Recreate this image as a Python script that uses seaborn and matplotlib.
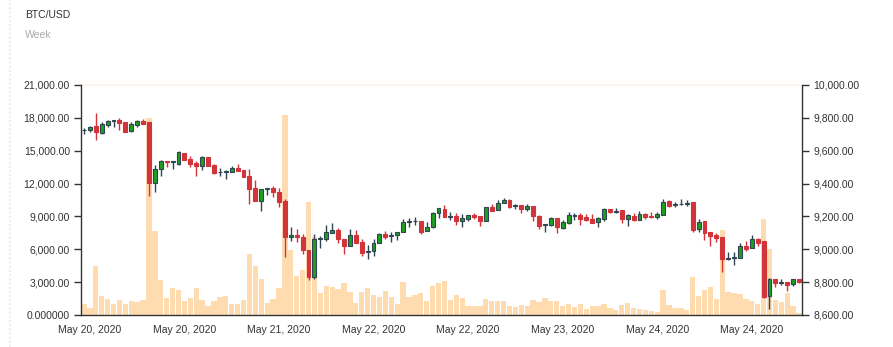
import matplotlib
matplotlib.use("Agg")
import matplotlib.pyplot as plt
from matplotlib.lines import Line2D
import seaborn as sns
import numpy as np
import pandas as pd

# ---------------- data ----------------
opens = [9725, 9729, 9749, 9710, 9759, 9783, 9789, 9773, 9719, 9757,
         9781, 9773, 9405, 9486, 9540, 9532, 9522, 9589, 9552, 9526,
         9506, 9559, 9512, 9469, 9469, 9471, 9496, 9484, 9445, 9372,
         9295, 9364, 9374, 9348, 9291, 9072, 9086, 9076, 8997, 8833,
         9060, 9060, 9101, 9119, 9062, 9022, 9086, 9042, 8983, 8989,
         9036, 9093, 9078, 9084, 9103, 9165, 9171, 9174, 9111, 9135,
         9218, 9247, 9198, 9204, 9174, 9182, 9208, 9200, 9170, 9257,
         9238, 9283, 9297, 9261, 9269, 9247, 9265, 9204, 9145, 9145,
         9188, 9131, 9161, 9204, 9208, 9194, 9186, 9165, 9182, 9243,
         9228, 9238, 9184, 9204, 9176, 9214, 9202, 9194, 9210, 9293,
         9271, 9273, 9275, 9285, 9125, 9170, 9103, 9089, 9076, 8939,
         8947, 8945, 9022, 9005, 9060, 9048, 8716, 8817, 8795, 8803,
         8789, 8819]
highs = [9741, 9751, 9832, 9777, 9789, 9789, 9802, 9775, 9777, 9789,
         9791, 9773, 9514, 9542, 9540, 9536, 9599, 9589, 9567, 9536,
         9567, 9559, 9522, 9492, 9482, 9508, 9522, 9484, 9488, 9421,
         9364, 9372, 9384, 9376, 9307, 9137, 9125, 9091, 8997, 9091,
         9082, 9145, 9157, 9127, 9062, 9123, 9117, 9062, 9026, 9060,
         9097, 9113, 9105, 9103, 9184, 9188, 9198, 9174, 9165, 9226,
         9249, 9267, 9224, 9222, 9212, 9206, 9218, 9200, 9259, 9275,
         9297, 9311, 9305, 9275, 9269, 9273, 9265, 9208, 9153, 9198,
         9188, 9178, 9224, 9220, 9218, 9214, 9214, 9198, 9253, 9243,
         9249, 9238, 9214, 9218, 9232, 9222, 9228, 9224, 9307, 9301,
         9287, 9305, 9303, 9285, 9184, 9170, 9103, 9101, 9076, 8981,
         8981, 9036, 9050, 9086, 9070, 9048, 8823, 8817, 8821, 8803,
         8817, 8819]
lows = [9704, 9715, 9664, 9704, 9745, 9745, 9729, 9712, 9715, 9745,
        9763, 9324, 9348, 9449, 9502, 9486, 9516, 9542, 9502, 9447,
        9482, 9506, 9457, 9445, 9425, 9471, 9477, 9441, 9273, 9295,
        9234, 9332, 9319, 9255, 8955, 9052, 9046, 8971, 8813, 8817,
        9009, 9052, 9101, 9036, 8971, 9022, 9036, 8961, 8939, 8961,
        9036, 9060, 9044, 9054, 9103, 9133, 9145, 9091, 9111, 9129,
        9190, 9194, 9180, 9149, 9137, 9172, 9182, 9139, 9170, 9232,
        9238, 9283, 9251, 9247, 9222, 9236, 9172, 9123, 9107, 9141,
        9101, 9123, 9153, 9178, 9149, 9174, 9157, 9133, 9174, 9222,
        9222, 9161, 9141, 9174, 9176, 9184, 9190, 9186, 9210, 9259,
        9255, 9271, 9263, 9107, 9105, 9056, 9022, 9044, 8864, 8932,
        8906, 8945, 8991, 9005, 9022, 8706, 8637, 8768, 8783, 8748,
        8779, 8797]
closes = [9728, 9747, 9715, 9761, 9779, 9786, 9769, 9715, 9765, 9781,
          9763, 9405, 9488, 9540, 9530, 9536, 9593, 9546, 9518, 9508,
          9559, 9508, 9463, 9473, 9475, 9496, 9477, 9441, 9368, 9295,
          9364, 9372, 9346, 9289, 9072, 9086, 9072, 8995, 8833, 9060,
          9066, 9103, 9119, 9060, 9022, 9086, 9036, 8979, 8989, 9040,
          9091, 9074, 9084, 9103, 9165, 9171, 9175, 9107, 9137, 9222,
          9249, 9198, 9204, 9174, 9192, 9206, 9198, 9170, 9255, 9236,
          9283, 9299, 9259, 9267, 9243, 9263, 9202, 9143, 9151, 9188,
          9135, 9168, 9208, 9210, 9184, 9180, 9161, 9188, 9243, 9228,
          9236, 9184, 9206, 9178, 9214, 9194, 9194, 9214, 9289, 9263,
          9277, 9277, 9281, 9117, 9167, 9101, 9082, 9070, 8941, 8945,
          8953, 9022, 9003, 9060, 9038, 8712, 8819, 8793, 8801, 8783,
          8817, 8803]
volumes = [1000, 640, 4470, 1730, 1430, 970, 1370, 970, 1250, 1220,
           1340, 17970, 7660, 3190, 1580, 2430, 2280, 1310, 1520, 2460,
           1370, 850, 1280, 1670, 1730, 1000, 1000, 1340, 5560, 4470,
           3280, 1130, 1460, 2460, 18240, 5930, 3590, 4100, 10280, 7080,
           1980, 2650, 2550, 2400, 2920, 2070, 1130, 2100, 2460, 1820,
           1640, 2190, 1640, 970, 3040, 1640, 1790, 2040, 1310, 2650,
           2920, 3100, 1370, 1850, 1550, 790, 790, 820, 1490, 1310,
           1280, 1250, 820, 700, 880, 820, 1370, 1190, 1550, 1280,
           1250, 790, 1000, 760, 970, 550, 790, 820, 1000, 640,
           460, 880, 1060, 610, 550, 490, 330, 270, 2280, 910,
           640, 610, 460, 3470, 1730, 2280, 2520, 1490, 7750, 2130,
           2010, 1920, 1460, 1280, 1030, 8760, 6020, 1370, 1190, 2040,
           820, 150]

date_labels = ["May 20, 2020", "May 20, 2020", "May 21, 2020", "May 22, 2020",
               "May 22, 2020", "May 23, 2020", "May 24, 2020", "May 24, 2020"]
label_pos = [1, 17, 33, 49, 65, 81, 97, 113]
tick_pos = [9, 25, 41, 57, 73, 89, 105, 121]

vol_ticks = [0, 3000, 6000, 9000, 12000, 15000, 18000, 21000]
vol_tick_labels = ["0.000000", "3,000.00", "6,000.00", "9,000.00",
                   "12,000.00", "15,000.00", "18,000.00", "21,000.00"]
price_ticks = [8600, 8800, 9000, 9200, 9400, 9600, 9800, 10000]
price_tick_labels = ["8,600.00", "8,800.00", "9,000.00", "9,200.00",
                     "9,400.00", "9,600.00", "9,800.00", "10,000.00"]

title = "BTC/USD"
subtitle = "Week"

# ---------------- style ----------------
sns.set_style("white")
plt.rcParams['font.family'] = ['Liberation Sans', 'DejaVu Sans']

UP_FILL = "#1f9e1f"
UP_EDGE = "#2f4554"
DOWN = "#d3343a"
VOL = "#ffdbb0"
TXT = "#333333"
FS = 7.5

W, H = 893, 347
fig = plt.figure(figsize=(W / 100, H / 100), dpi=100)
ax = fig.add_axes([81 / W, 32 / H, 721 / W, 230 / H])

df = pd.DataFrame({
    "idx": np.arange(len(volumes)),
    "open": opens, "high": highs, "low": lows, "close": closes,
    "volume": volumes,
})

# volume bars (left axis)
sns.barplot(data=df, x="idx", y="volume", ax=ax, color=VOL, saturation=1,
            width=0.9, edgecolor="none", errorbar=None)
ax.set_xlim(-0.5, len(volumes) - 0.5)
ax.set_ylim(0, 21000)
ax.axhline(21000, color="#fdf5ee", lw=1.2, clip_on=False, zorder=0)

# candles (right axis)
ax2 = ax.twinx()
ax2.set_ylim(8600, 10000)
up = df["close"] >= df["open"]
for is_up, sub in ((True, df[up]), (False, df[~up])):
    wick_c = UP_EDGE if is_up else DOWN
    ax2.vlines(sub["idx"], sub["low"], sub["high"], color=wick_c, lw=1.0, zorder=2)
    bottom = np.minimum(sub["open"], sub["close"])
    height = np.abs(sub["close"] - sub["open"])
    ax2.bar(sub["idx"], height, bottom=bottom, width=0.66,
            color=UP_FILL if is_up else DOWN,
            edgecolor=UP_EDGE if is_up else DOWN, linewidth=0.8, zorder=3)

# axes styling
for a in (ax, ax2):
    a.spines["top"].set_visible(False)
    for s in ("left", "right", "bottom"):
        a.spines[s].set_color(TXT)
        a.spines[s].set_linewidth(1.0)
ax.spines["right"].set_visible(False)
ax2.spines["left"].set_visible(False)
ax2.spines["bottom"].set_visible(False)

ax.set_yticks(vol_ticks)
ax.set_yticklabels(vol_tick_labels)
ax2.set_yticks(price_ticks)
ax2.set_yticklabels(price_tick_labels)

ax.set_xticks(tick_pos)
ax.set_xticklabels([""] * len(tick_pos))
ax.set_xticks(label_pos, minor=True)
ax.set_xticklabels(date_labels, minor=True)
ax.tick_params(axis="x", which="major", length=5, width=1, color=TXT)
ax.tick_params(axis="x", which="minor", length=0, pad=7.5, labelsize=FS, labelcolor=TXT)
ax.tick_params(axis="y", length=5, width=1, color=TXT, labelsize=FS,
               labelcolor=TXT, pad=3, left=True)
ax2.tick_params(axis="y", length=5, width=1, color=TXT, labelsize=FS,
                labelcolor=TXT, pad=3, right=True)
ax.set_xlabel("")
ax.set_ylabel("")
ax2.set_ylabel("")

# titles and card border
fig.text(25 / W, 1 - 15 / H, title, fontsize=FS, color=TXT, va="center", ha="left")
fig.text(25 / W, 1 - 34.5 / H, subtitle, fontsize=FS, color="#aaaaaa", va="center", ha="left")
fig.add_artist(Line2D([9.5 / W, 9.5 / W], [0, 1], color="#ececec", lw=1.5,
                      ls=(0, (1, 1)), transform=fig.transFigure))

fig.savefig("out.png", dpi=100)
